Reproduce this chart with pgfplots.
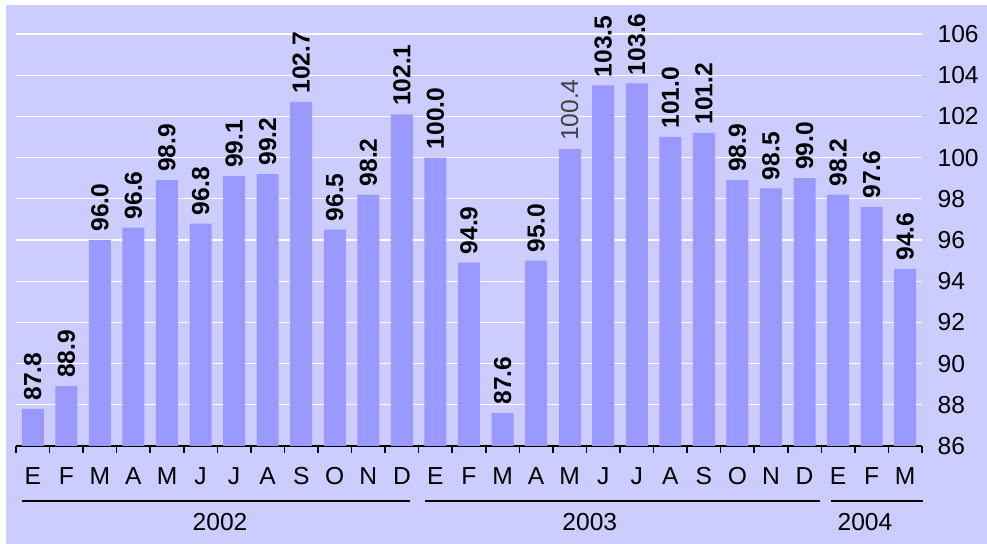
\documentclass[border=0pt]{standalone}
\usepackage{pgfplots}
\pgfplotsset{compat=1.18}
\usepackage{fontspec}
\setmainfont{Liberation Sans}
\definecolor{bgc}{RGB}{204,204,255}
\definecolor{barc}{RGB}{153,153,255}
\newcommand{\fs}{\fontsize{12.3}{14}\selectfont}
\begin{document}
\begin{tikzpicture}
\fill[bgc] (-5pt,-49pt) rectangle (485.5pt,220.5pt);
\path (-8pt,-49pt) rectangle (485.5pt,223pt);
\begin{axis}[
  at={(0,0)}, anchor=south west,
  scale only axis, width=453pt, height=206pt,
  xmin=-0.5, xmax=26.5, ymin=86, ymax=106,
  clip=false,
  axis x line*=bottom, axis y line*=right,
  y axis line style={draw=none},
  x axis line style={black, line width=0.8pt, -},
  ytick={86,88,...,106},
  ymajorgrids, grid style={white, line width=0.6pt},
  ytick style={draw=none},
  yticklabel style={font=\fs, xshift=0pt},
  /pgf/number format/assume math mode=true,
  xtick={0,...,26},
  xticklabels={E,F,M,A,M,J,J,A,S,O,N,D,E,F,M,A,M,J,J,A,S,O,N,D,E,F,M},
  xticklabel style={font=\fs, yshift=-3pt},
  major x tick style={draw=none},
  minor xtick={-0.5,0.5,...,26.5},
  minor x tick style={black, line width=0.8pt},
  minor tick length=3.5pt, tick align=outside,
  ybar, bar width=11pt, bar shift=0pt,
  nodes near coords={\pgfmathprintnumber[fixed,fixed zerofill,precision=1]{\pgfplotspointmeta}},
  every node near coord/.append style={rotate=90, anchor=west, inner sep=4pt,
     font=\bfseries\fs, black},
]
\addplot[fill=barc, draw=none] coordinates {
(0,87.8) (1,88.9) (2,96.0) (3,96.6) (4,98.9) (5,96.8) (6,99.1) (7,99.2) (8,102.7)
(9,96.5) (10,98.2) (11,102.1) (12,100.0) (13,94.9) (14,87.6) (15,95.0)
(17,103.5) (18,103.6) (19,101.0) (20,101.2) (21,98.9) (22,98.5) (23,99.0)
(24,98.2) (25,97.6) (26,94.6)};
\addplot[fill=barc, draw=none,
  every node near coord/.append style={font=\fs, text=black!75}]
  coordinates {(16,100.4)};
\draw[black, line width=0.6pt] ([yshift=-27.5pt]axis cs:-0.32,86) -- ([yshift=-27.5pt]axis cs:11.24,86);
\draw[black, line width=0.6pt] ([yshift=-27.5pt]axis cs:11.69,86) -- ([yshift=-27.5pt]axis cs:23.46,86);
\draw[black, line width=0.6pt] ([yshift=-27.5pt]axis cs:23.8,86) -- ([yshift=-27.5pt]axis cs:26.53,86);
\node[font=\fs] at ([yshift=-38pt]axis cs:5.58,86) {2002};
\node[font=\fs] at ([yshift=-38pt]axis cs:16.6,86) {2003};
\node[font=\fs] at ([yshift=-38pt]axis cs:24.8,86) {2004};
\end{axis}
\end{tikzpicture}
\end{document}
